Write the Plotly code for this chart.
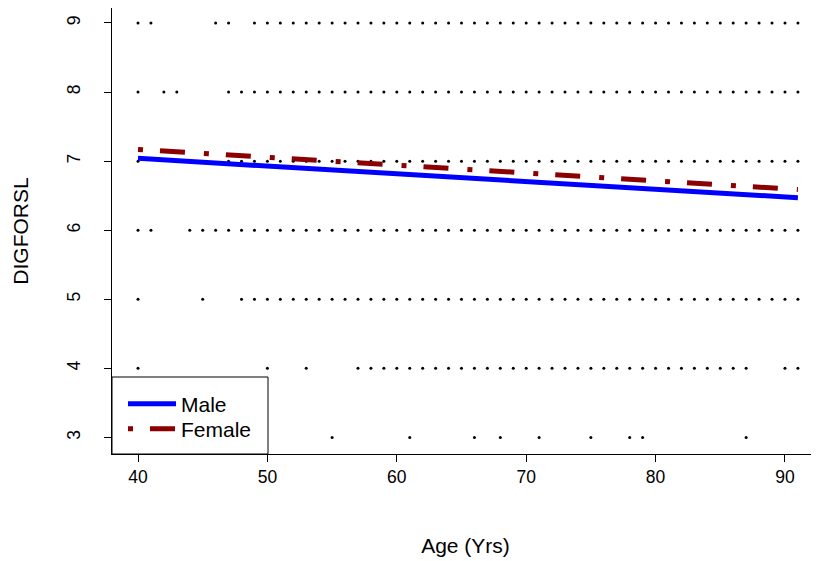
import plotly.graph_objects as go

# Scatter data: ages observed at each DIGFORSL score
ages_9 = [40, 41, 46, 47] + list(range(49, 92))
ages_8 = [40, 42, 43] + list(range(47, 92))
ages_7 = [40] + list(range(47, 92))
ages_6 = [40, 41] + list(range(44, 92))
ages_5 = [40, 45] + list(range(48, 92))
ages_4 = [40, 50, 53] + list(range(57, 88)) + [90, 91]
ages_3 = [55, 61, 66, 68, 71, 75, 78, 79, 87]

rows = {9: ages_9, 8: ages_8, 7: ages_7, 6: ages_6, 5: ages_5, 4: ages_4, 3: ages_3}

# Fitted lines
line_ages = [40, 91]
male_vals = [7.04, 6.47]
female_vals = [7.17, 6.59]

x_ticks = [40, 50, 60, 70, 80, 90]
y_ticks = [3, 4, 5, 6, 7, 8, 9]

pts_x, pts_y = [], []
for score, ages in rows.items():
    pts_x += ages
    pts_y += [score] * len(ages)

fig = go.Figure()
fig.add_trace(go.Scatter(x=pts_x, y=pts_y, mode="markers",
                         marker=dict(color="black", size=3), showlegend=False, hoverinfo="skip"))
fig.add_trace(go.Scatter(x=line_ages, y=male_vals, mode="lines", name="Male",
                         line=dict(color="#0000ff", width=5), legend="legend"))
fig.add_trace(go.Scatter(x=line_ages, y=female_vals, mode="lines", name="Female",
                         line=dict(color="#8b0000", width=5, dash="5px,17px,25px,19px"),
                         legend="legend2"))

font = "Liberation Sans, Arial, Helvetica, sans-serif"
# page body has an 8px margin, so the figure is drawn 8px in from the corner
W, H = 811, 553
ml, mr, mt, mb = 104, 0, 0, 107
pw, ph = W - ml - mr, H - mt - mb

leg_common = dict(xanchor="left", yanchor="middle", bgcolor="rgba(0,0,0,0)",
                  borderwidth=0, font=dict(size=21), itemwidth=48)

fig.update_layout(
    width=W, height=H,
    margin=dict(l=ml, r=mr, t=mt, b=mb),
    plot_bgcolor="white", paper_bgcolor="white",
    font=dict(family=font, size=17.5, color="black"),
    showlegend=True,
    legend=dict(x=11 / pw, y=(454 - 404) / ph, **leg_common),
    legend2=dict(x=11 / pw, y=(454 - 429) / ph, **leg_common),
    shapes=[dict(type="rect", xref="paper", yref="paper", x0=0, x1=156 / pw,
                 y0=0, y1=77 / ph, line=dict(color="black", width=1),
                 fillcolor="white", layer="below")],
    xaxis=dict(range=[37.99, 92.63], tickvals=x_ticks, showgrid=False, zeroline=False,
               showline=True, linecolor="black", linewidth=1, ticks="outside",
               ticklen=7, tickcolor="black", automargin=False,
               title=dict(text="Age (Yrs)", standoff=52)),
    yaxis=dict(range=[2.76, 9.217], tickvals=y_ticks, showgrid=False, zeroline=False,
               showline=True, linecolor="black", linewidth=1, ticks="outside",
               ticklen=7, tickcolor="black", tickangle=-90, automargin=False,
               ticklabelstandoff=17,
               title=dict(text="DIGFORSL", standoff=29)),
)

fig.write_html("out.html")
